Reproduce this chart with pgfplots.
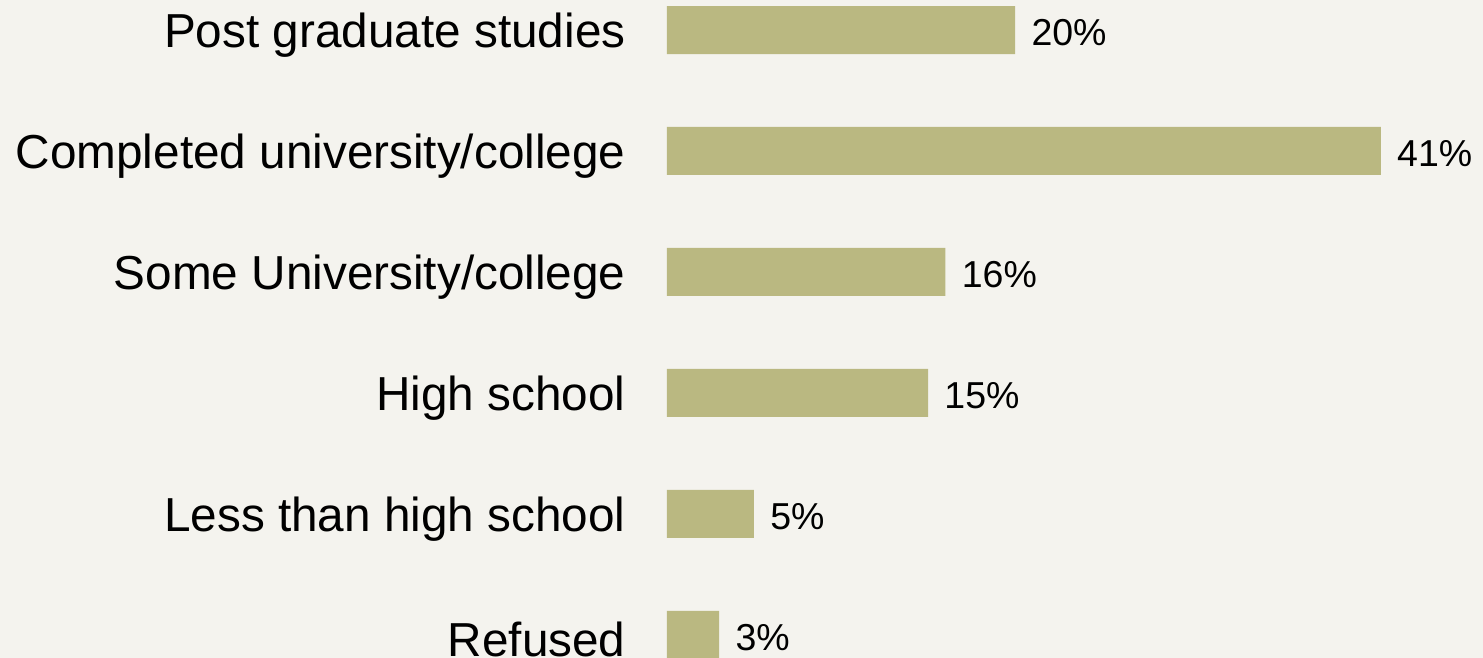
\documentclass[border=0pt]{standalone}
\usepackage{pgfplots}
\pgfplotsset{compat=1.18}
\usepackage{fontspec}
\setmainfont{Liberation Sans}
\usetikzlibrary{backgrounds}

\definecolor{bg}{HTML}{F4F3EE}
\definecolor{barfill}{HTML}{BAB881}

\begin{document}
\begin{tikzpicture}[show background rectangle,
  background rectangle/.style={fill=bg, draw=none}, inner frame sep=0pt]
\begin{axis}[
    xbar,
    x=8.707pt, y=60.5pt,
    xmin=0, xmax=46.86,
    ymin=-0.248, ymax=5.190,
    y dir=reverse,
    enlargelimits=false,
    axis line style={draw=none},
    bar width=24pt,
    ytick={0,1,2,3,4,5},
    yticklabels={Post graduate studies,Completed university/college,Some University/college,High school,Less than high school,Refused},
    xtick=\empty,
    major tick length=0pt,
    yticklabel style={anchor=east, inner sep=0pt, yshift=-2.5pt,
      font=\fontsize{23.85}{26}\selectfont},
    yticklabel shift=20.5pt,
    /pgf/number format/assume math mode=true,
    nodes near coords={\pgfmathprintnumber{\pgfplotspointmeta}\%},
    nodes near coords style={anchor=west, inner sep=0pt, xshift=8pt, yshift=-1.5pt,
      font=\fontsize{18.75}{20}\selectfont, text=black},
    point meta=x,
    ]
\addplot[draw=none, fill=barfill] coordinates {
  (20,0) (41,1) (16,2) (15,3) (5,4) (3,5)};
\end{axis}
\path ([xshift=-333.5pt]current axis.south west) -- (current axis.north east);
\end{tikzpicture}
\end{document}
